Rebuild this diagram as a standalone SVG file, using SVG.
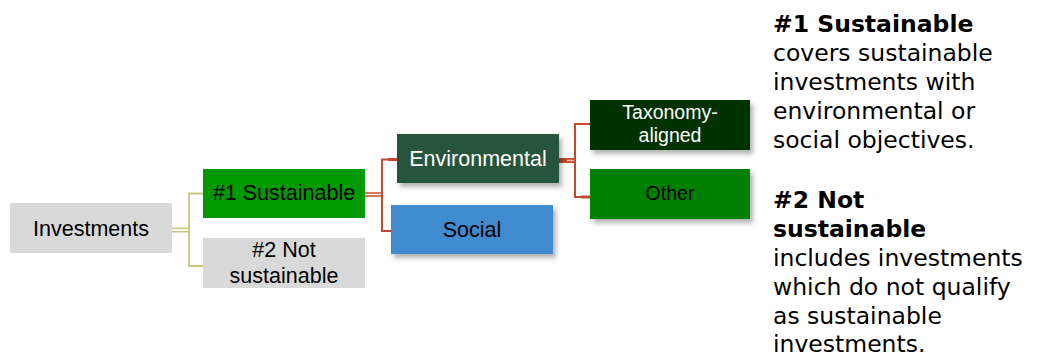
<svg xmlns="http://www.w3.org/2000/svg" width="1038" height="358" viewBox="0 0 1038 358">
<defs>
<filter id="sh" x="-10%" y="-20%" width="125%" height="150%">
<feDropShadow dx="3" dy="4" stdDeviation="2.5" flood-color="#000" flood-opacity="0.3"/>
</filter>
</defs>
<style>
.lbl{font-family:"Liberation Sans",Arial,sans-serif;font-size:21.5px;text-anchor:middle}
.sm{font-size:19.5px}
.wt{fill:#ffffff}
.bk{fill:#000000}
.side{font-family:"DejaVu Sans",Verdana,sans-serif;font-size:23.5px;fill:#000}
.b{font-weight:bold}
.ol{stroke:#cdc582;fill:none}
.rd{stroke:#c4482c;fill:none}
</style>
<rect width="1038" height="358" fill="#ffffff"/>
<g id="connectors">
<path class="ol" stroke-width="5" d="M172 230 H189"/>
<path stroke="#fff" stroke-width="1.8" fill="none" d="M172 230 H188"/>
<path class="ol" stroke-width="1.8" d="M203 193.5 H189 V266 H203"/>
<path class="rd" stroke-width="4.5" d="M365 194.5 H382"/>
<path stroke="#fff" stroke-width="1.5" fill="none" d="M365 194.5 H381"/>
<path class="rd" stroke-width="2" d="M397 159.5 H382 V231 H391"/>
<path class="rd" stroke-width="3" d="M388 159.5 H397"/>
<path class="rd" stroke-width="5" d="M559 160.5 H575"/>
<path stroke="#f0b8a8" stroke-width="1.5" fill="none" d="M567 160.5 H575"/>
<path class="rd" stroke-width="2" d="M590 124 H575 V197 H590"/>
<path class="rd" stroke-width="3" d="M581 197 H590"/>
</g>
<g id="n-investments">
<rect x="10" y="203" width="162" height="50" fill="#d9d9d9"/>
<text class="lbl bk" x="91" y="236">Investments</text>
</g>
<g id="n-sustainable">
<rect x="203" y="169" width="162" height="49" fill="#009a00"/>
<text class="lbl bk" x="284" y="200">#1 Sustainable</text>
</g>
<g id="n-not-sustainable">
<rect x="203" y="238" width="162" height="50" fill="#d9d9d9"/>
<text class="lbl bk" x="284" y="257">#2 Not</text>
<text class="lbl bk" x="284" y="283">sustainable</text>
</g>
<g id="n-environmental">
<rect x="397" y="134" width="162" height="49" fill="#27553b" filter="url(#sh)"/>
<text class="lbl wt" x="478" y="166">Environmental</text>
</g>
<g id="n-social">
<rect x="391" y="205" width="162" height="49" fill="#3f8acf" filter="url(#sh)"/>
<text class="lbl bk" x="472" y="237">Social</text>
</g>
<g id="n-taxonomy">
<rect x="590" y="100" width="160" height="50" fill="#003300" filter="url(#sh)"/>
<text class="lbl sm wt" x="670" y="119">Taxonomy-</text>
<text class="lbl sm wt" x="670" y="142">aligned</text>
</g>
<g id="n-other">
<rect x="590" y="169" width="160" height="50" fill="#008000" filter="url(#sh)"/>
<text class="lbl sm bk" x="670" y="200">Other</text>
</g>
<g id="legend">
<text class="side b" x="773" y="32">#1 Sustainable</text>
<text class="side" x="773" y="61">covers sustainable</text>
<text class="side" x="773" y="90">investments with</text>
<text class="side" x="773" y="119">environmental or</text>
<text class="side" x="773" y="148">social objectives.</text>
<text class="side b" x="773" y="208">#2 Not</text>
<text class="side b" x="773" y="237">sustainable</text>
<text class="side" x="773" y="266">includes investments</text>
<text class="side" x="773" y="295">which do not qualify</text>
<text class="side" x="773" y="324">as sustainable</text>
<text class="side" x="773" y="352">investments.</text>
</g>
</svg>
